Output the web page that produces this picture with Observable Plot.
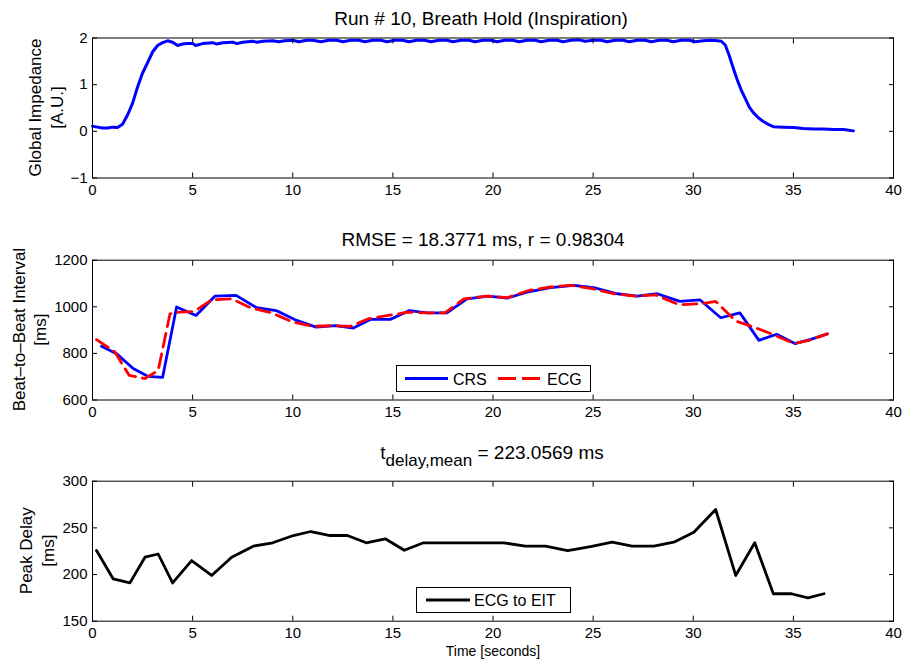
<!DOCTYPE html>
<html><head><meta charset="utf-8">
<script src="https://cdn.jsdelivr.net/npm/d3@7"></script>
<script src="https://cdn.jsdelivr.net/npm/@observablehq/plot@0.6"></script>
<style>
body{margin:0;background:#fff;}
#wrap{position:relative;width:903px;height:664px;overflow:hidden;background:#fff}
#wrap svg.panel{position:absolute;left:0}
</style></head><body><div id="wrap"></div>
<script>
const FONT = "'Liberation Sans', Arial, Helvetica, sans-serif";

// ---------- Data ----------
const xTicks = [0, 5, 10, 15, 20, 25, 30, 35, 40];

// Panel 1: global impedance
const impT = [0,0.25,0.5,0.75,1.0,1.25,1.5,1.75,2.0,2.25,2.5,2.75,3.0,3.25,3.5,3.75,4.0,4.25,4.5,4.75,5.0,5.15,5.5,6.0,6.2,6.5,7.0,7.2,7.5,8.0,8.2,8.5,9.0,9.3,9.6,10.0,10.3,10.7,11.0,11.4,11.8,12.2,12.5,12.9,13.3,13.6,14.0,14.4,14.7,15.1,15.5,15.8,16.2,16.6,16.9,17.3,17.7,18.0,18.4,18.8,19.1,19.5,19.9,20.2,20.6,21.0,21.3,21.7,22.1,22.4,22.8,23.2,23.5,23.9,24.3,24.6,25.0,25.4,25.7,26.1,26.5,26.8,27.2,27.6,27.9,28.3,28.7,29.0,29.4,29.8,30.1,30.5,30.9,31.2,31.4,31.6,31.8,32.0,32.2,32.4,32.6,32.8,33.0,33.25,33.5,33.75,34.0,34.5,35.0,35.5,36.0,36.5,37.0,37.5,38.0];
const impV = [0.11,0.09,0.07,0.07,0.09,0.08,0.15,0.35,0.6,0.95,1.25,1.47,1.7,1.84,1.9,1.94,1.91,1.84,1.87,1.88,1.88,1.84,1.88,1.9,1.87,1.9,1.91,1.88,1.91,1.93,1.91,1.93,1.94,1.92,1.94,1.95,1.92,1.95,1.95,1.92,1.95,1.95,1.92,1.95,1.95,1.92,1.95,1.95,1.92,1.95,1.95,1.92,1.95,1.95,1.92,1.95,1.95,1.92,1.95,1.95,1.92,1.95,1.95,1.92,1.95,1.95,1.92,1.95,1.95,1.92,1.95,1.95,1.92,1.95,1.96,1.93,1.95,1.95,1.92,1.95,1.95,1.92,1.95,1.95,1.92,1.95,1.95,1.92,1.95,1.95,1.92,1.94,1.95,1.94,1.93,1.85,1.62,1.35,1.1,0.88,0.7,0.52,0.4,0.29,0.21,0.15,0.1,0.09,0.08,0.06,0.05,0.05,0.04,0.04,0.01];

// Panel 2: beat-to-beat interval
const crsT = [0.45,1.2,2.03,2.78,3.5,4.2,5.17,6.12,7.17,8.2,9.17,10.12,11.17,12.12,13.03,13.87,14.87,15.83,16.7,17.7,18.7,19.78,20.7,21.7,22.87,24.03,25.03,26.2,27.2,28.2,29.33,30.33,31.37,32.33,33.28,34.17,35.07,35.87,36.7];
const crsV = [831,799,735,701,697,999,963,1046,1049,996,984,944,913,919,909,946,946,984,974,974,1034,1046,1037,1063,1082,1092,1082,1056,1046,1056,1023,1030,953,974,856,882,842,860,884];
const ecgT = [0.2,1.12,1.83,2.62,3.28,3.87,4.33,5.07,5.95,6.95,7.95,8.95,9.95,11.02,12.02,12.87,13.78,14.78,15.78,16.7,17.6,18.55,19.7,20.7,21.78,22.87,23.87,24.95,26.03,27.1,28.12,29.28,30.37,31.12,32.12,33.03,34.1,35.03,35.78,36.7];
const ecgV = [859,806,706,692,727,970,977,980,1030,1034,994,974,936,916,919,916,949,963,977,974,974,1034,1046,1039,1070,1085,1092,1078,1056,1046,1051,1009,1013,1023,939,913,877,842,856,884];

// Panel 3: peak delay
const delT = [0.2,1.03,1.87,2.62,3.28,4.0,4.95,5.95,6.95,8.03,9.0,10.03,10.9,11.87,12.73,13.67,14.62,15.57,16.53,17.5,18.5,19.5,20.53,21.62,22.62,23.73,24.87,25.95,26.95,28.03,29.03,30.03,31.12,32.12,33.07,34.0,34.9,35.73,36.53];
const delV = [225.7,195.4,191.1,218.6,222,191,215,199,218.6,230.4,234,241.8,246.1,241.8,241.8,234,238.3,226,234,234,234,234,234,230.4,230.4,225.7,230,234.7,230.4,230.4,234.7,245.4,269.7,199,234,179.4,179.4,175,179.4];

// Text
const titles = ["Run # 10, Breath Hold (Inspiration)", "RMSE = 18.3771 ms, r = 0.98304"];
const title3 = {main: "t", sub: "delay,mean", rest: " = 223.0569 ms"};
const yLabels = [["Global Impedance", "[A.U.]"], ["Beat\u2013to\u2013Beat Interval", "[ms]"], ["Peak Delay", "[ms]"]];
const xLabel = "Time [seconds]";
const legend2 = ["CRS", "ECG"];
const legend3 = ["ECG to EIT"];

const y1Ticks = [-1, 0, 1, 2];
const y2Ticks = [600, 800, 1000, 1200];
const y3Ticks = [150, 200, 250, 300];

// ---------- Build ----------
const zip = (ts, vs) => ts.map((t, i) => ({t, v: vs[i]}));
const fmt = d => d < 0 ? "\u2212" + (-d) : String(d);
const wrap = document.getElementById("wrap");

function panel(top, height, mt, mb, yDomain, yTicks, marks) {
  const p = Plot.plot({
    width: 903, height,
    marginTop: mt, marginBottom: mb, marginLeft: 92, marginRight: 10,
    style: {fontFamily: FONT, fontSize: "15px", color: "black", background: "transparent", overflow: "visible"},
    x: {domain: [0, 40]},
    y: {domain: yDomain},
    marks: [
      ...marks,
      Plot.frame({stroke: "black", strokeWidth: 1}),
      Plot.axisX(xTicks, {anchor: "bottom", tickSize: -5, tickPadding: 11, tickFormat: fmt, label: null}),
      Plot.axisX(xTicks, {anchor: "top", tickSize: -5, tickFormat: () => "", label: null}),
      Plot.axisY(yTicks, {anchor: "left", tickSize: -5, tickPadding: 10, tickFormat: fmt, label: null}),
      Plot.axisY(yTicks, {anchor: "right", tickSize: -5, tickFormat: () => "", label: null})
    ]
  });
  p.classList.add("panel");
  p.style.top = top + "px";
  wrap.appendChild(p);
}

panel(0, 222, 37.5, 44.5, [-1, 2], y1Ticks, [
  Plot.line(zip(impT, impV), {x: "t", y: "v", stroke: "#0000ff", strokeWidth: 3})
]);
panel(222, 221, 37.7, 43.5, [600, 1200], y2Ticks, [
  Plot.line(zip(crsT, crsV), {x: "t", y: "v", stroke: "#0000ff", strokeWidth: 2.8}),
  Plot.line(zip(ecgT, ecgV), {x: "t", y: "v", stroke: "#ff0000", strokeWidth: 2.8, strokeDasharray: "14,7"})
]);
panel(443, 221, 37.7, 43.3, [150, 300], y3Ticks, [
  Plot.line(zip(delT, delV), {x: "t", y: "v", stroke: "black", strokeWidth: 2.8})
]);

// ---------- Overlay text & legends ----------
const ov = d3.select(wrap).append("svg")
  .attr("width", 903).attr("height", 664)
  .style("position", "absolute").style("left", 0).style("top", 0)
  .style("font-family", FONT).style("pointer-events", "none");

ov.append("text").attr("x", 481).attr("y", 25).attr("text-anchor", "middle").attr("font-size", 19).text(titles[0]);
ov.append("text").attr("x", 483).attr("y", 246).attr("text-anchor", "middle").attr("font-size", 19).text(titles[1]);
const t3 = ov.append("text").attr("x", 492).attr("y", 459).attr("text-anchor", "middle").attr("font-size", 19);
t3.append("tspan").text(title3.main);
t3.append("tspan").attr("font-size", 17).attr("dy", 7).text(title3.sub);
t3.append("tspan").attr("dy", -7).text(title3.rest);

function ylab(lines, cx, cy, sp) {
  const t = ov.append("text").attr("transform", `translate(${cx},${cy}) rotate(-90)`)
    .attr("text-anchor", "middle").attr("font-size", 17);
  t.append("tspan").attr("x", 0).attr("y", -sp / 2).attr("dy", "0.35em").text(lines[0]);
  t.append("tspan").attr("x", 0).attr("y", sp / 2).attr("dy", "0.35em").text(lines[1]);
}
ylab(yLabels[0], 46, 107.5, 22);
ylab(yLabels[1], 30, 329.6, 21);
ylab(yLabels[2], 37, 550.7, 21.5);

ov.append("text").attr("x", 493).attr("y", 656).attr("text-anchor", "middle").attr("font-size", 14).text(xLabel);

// legend panel 2
ov.append("rect").attr("x", 396.5).attr("y", 365.5).attr("width", 194).attr("height", 26).attr("fill", "white").attr("stroke", "black");
ov.append("line").attr("x1", 405).attr("x2", 448).attr("y1", 378.5).attr("y2", 378.5).attr("stroke", "#0000ff").attr("stroke-width", 3);
ov.append("text").attr("x", 453).attr("y", 384.5).attr("font-size", 16).text(legend2[0]);
ov.append("line").attr("x1", 498).attr("x2", 541).attr("y1", 378.5).attr("y2", 378.5).attr("stroke", "#ff0000").attr("stroke-width", 3).attr("stroke-dasharray", "18,6");
ov.append("text").attr("x", 547).attr("y", 384.5).attr("font-size", 16).text(legend2[1]);

// legend panel 3
ov.append("rect").attr("x", 416.5).attr("y", 587.5).attr("width", 154).attr("height", 25).attr("fill", "white").attr("stroke", "black");
ov.append("line").attr("x1", 426).attr("x2", 470).attr("y1", 600).attr("y2", 600).attr("stroke", "black").attr("stroke-width", 3);
ov.append("text").attr("x", 474).attr("y", 605.5).attr("font-size", 16).text(legend3[0]);
</script>
</body></html>
